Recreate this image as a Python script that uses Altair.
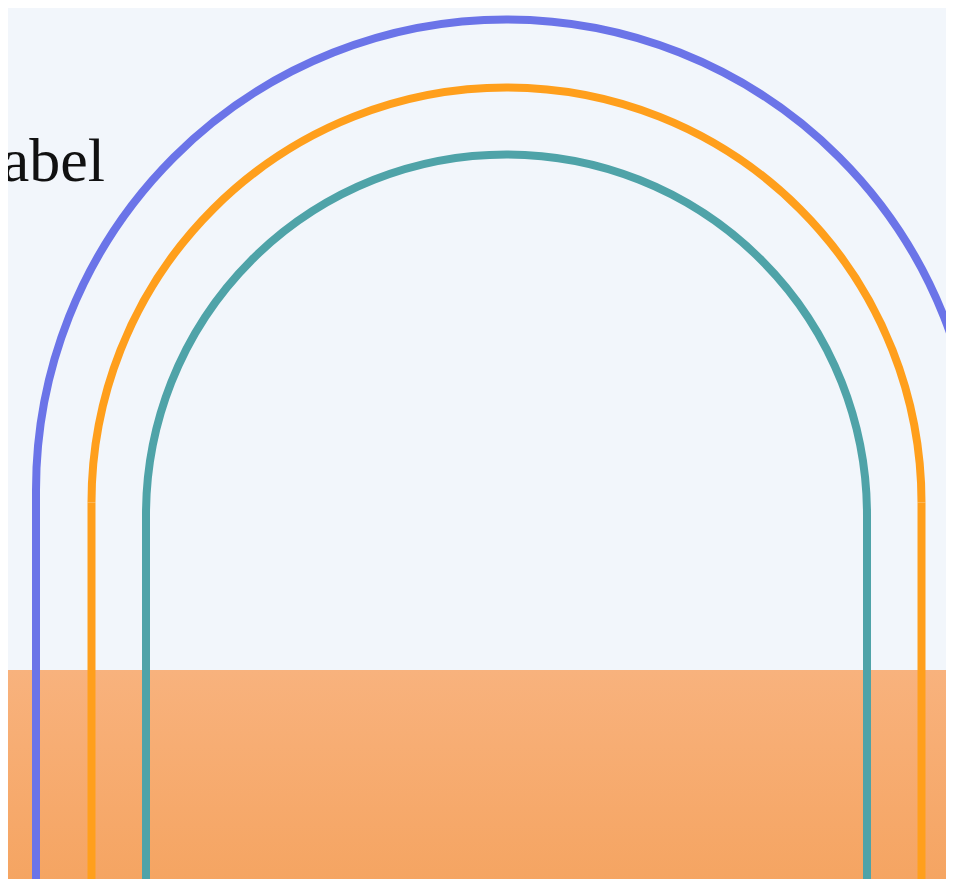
import altair as alt
import pandas as pd

# Arch series (reference units: x to the right, y upward from the bottom edge)
arch_names = ["Outer", "Middle", "Inner"]
arch_colors = ["#6b74e8", "#ff9f1c", "#4fa3a8"]
arch_center_x = [506.5, 506.5, 506.5]
arch_base_y = [397.0, 384.5, 372.0]
arch_radius = [470.5, 415.0, 360.5]

# Ground band
band_x = [0, 954]
band_top = [217]

# Label
label_text = ["Label"]
label_x = [105]
label_y = [706]

arches = pd.DataFrame({
    "name": arch_names,
    "cx": arch_center_x,
    "cy": arch_base_y,
    "r": arch_radius,
})
band = pd.DataFrame({"x": [band_x[0]], "x2": [band_x[1]], "y": [0], "y2": band_top})
labels = pd.DataFrame({"text": label_text, "x": label_x, "y": label_y})

xs = alt.Scale(domain=[0, 954], range=[-8, 946])
ys = alt.Scale(domain=[0, 887], range=[879, -8])
rs = alt.Scale(type="linear", domain=[0, 954], range=[0, 954], zero=True)
cs = alt.Scale(domain=arch_names, range=arch_colors)

ground = alt.Chart(band).mark_rect(
    color=alt.Gradient(
        gradient="linear",
        stops=[alt.GradientStop(color="#f8b27d", offset=0),
               alt.GradientStop(color="#f5a461", offset=1)],
        x1=0, x2=0, y1=0, y2=1,
    ),
    clip=False,
).encode(
    x=alt.X("x:Q", scale=xs, axis=None),
    x2="x2:Q",
    y=alt.Y("y2:Q", scale=ys, axis=None),
    y2="y:Q",
)

arcs = alt.Chart(arches).mark_arc(filled=False, strokeWidth=8, strokeCap="butt").encode(
    x=alt.X("cx:Q", scale=xs, axis=None),
    y=alt.Y("cy:Q", scale=ys, axis=None),
    radius=alt.Radius("r:Q", scale=rs),
    radius2=alt.Radius2("r:Q"),
    theta=alt.value(4.71238898),
    theta2=alt.value(7.85398163),
    color=alt.Color("name:N", scale=cs, legend=None),
)

base_legs = alt.Chart(arches).transform_calculate(
    xl="datum.cx - datum.r", xr="datum.cx + datum.r", bottom="0"
)
legs_left = base_legs.mark_rule(strokeWidth=8, strokeCap="butt").encode(
    x=alt.X("xl:Q", scale=xs, axis=None),
    y=alt.Y("cy:Q", scale=ys, axis=None),
    y2="bottom:Q",
    color=alt.Color("name:N", scale=cs, legend=None),
)
legs_right = base_legs.mark_rule(strokeWidth=8, strokeCap="butt").encode(
    x=alt.X("xr:Q", scale=xs, axis=None),
    y=alt.Y("cy:Q", scale=ys, axis=None),
    y2="bottom:Q",
    color=alt.Color("name:N", scale=cs, legend=None),
)

text = alt.Chart(labels).mark_text(
    align="right", baseline="alphabetic", font="Liberation Serif",
    fontSize=62, color="#111111",
).encode(
    x=alt.X("x:Q", scale=xs, axis=None),
    y=alt.Y("y:Q", scale=ys, axis=None),
    text="text:N",
)

chart = alt.layer(ground, arcs, legs_left, legs_right, text).properties(
    width=938, height=871, padding=0, background="#f2f6fb",
    autosize=alt.AutoSizeParams(type="none"),
).configure_view(stroke=None, fill="#f2f6fb")

chart.save("out.html", embed_options={"renderer": "svg", "actions": False})
